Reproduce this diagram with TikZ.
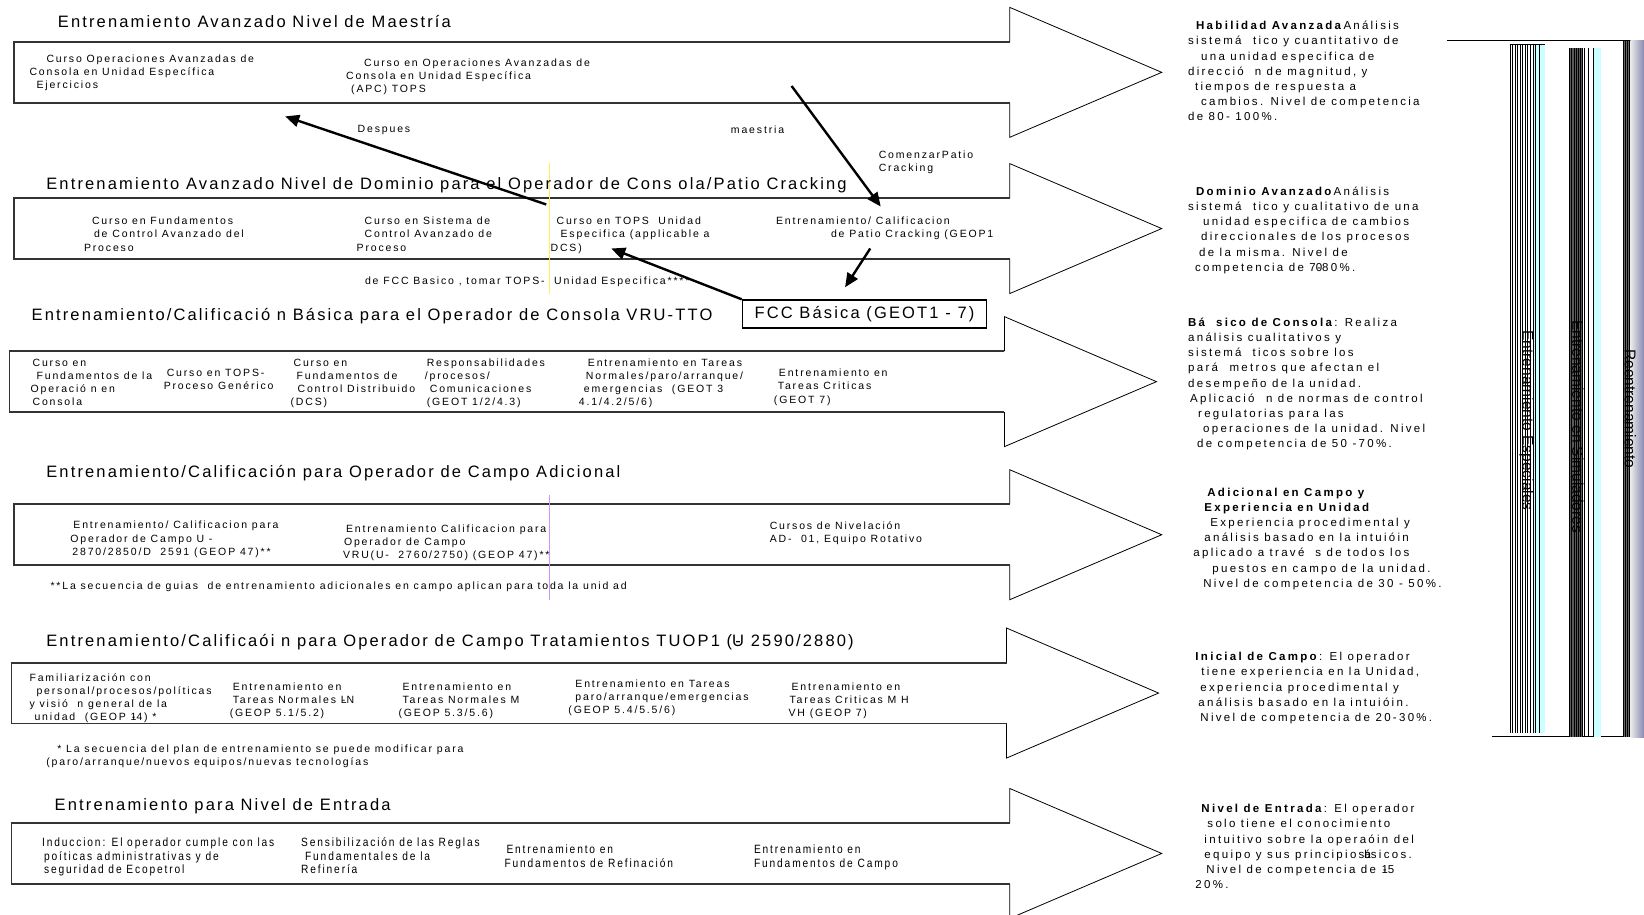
\documentclass[tikz,border=0pt]{standalone}
\usepackage{fontspec}
\setmainfont{Liberation Sans}
\newfontfamily\titlef[LetterSpace=13]{Liberation Sans}
\newfontfamily\smallf[LetterSpace=17.5]{Liberation Sans}
\newfontfamily\descf[LetterSpace=20]{Liberation Sans}
\newfontfamily\narrowf[LetterSpace=15.5,FakeStretch=0.85]{Liberation Sans}
\newfontfamily\colf{Liberation Sans}
\usetikzlibrary{arrows.meta}
% overprinted glyph pair
\newcommand\ovl[2]{\ooalign{#1\cr\hidewidth#2\hidewidth\cr}}
\newcommand\ind[1]{\hspace*{#1pt}}
% one level arrow: left x, centre y, x where the head starts
\newcommand\levelarrow[3]{%
  \draw[headline] (#3,#2-29) -- (#3,#2-62) -- (#3+145,#2) -- (#3,#2+62) -- (#3,#2+29);
  \draw[shaftline] (#3,#2-29) -- (#1,#2-29) -- (#1,#2+29) -- (#3,#2+29);}
\definecolor{lightcyan}{RGB}{204,255,255}
\definecolor{slateblue}{RGB}{136,136,176}
\definecolor{hiyellow}{RGB}{255,240,90}
\definecolor{hipurple}{RGB}{200,150,255}
\begin{document}
\begin{tikzpicture}[x=1.0485pt,y=-1.0485pt,
  headline/.style={draw=black,line width=0.8pt},
  shaftline/.style={draw=black!80,line width=1.8pt},
  leveltitle/.style={anchor=west,inner sep=0pt,yshift=-2pt,font=\titlef\fontsize{16.5}{20}\selectfont},
  course/.style={anchor=north west,inner sep=0pt,align=left,yshift=-2.1pt,font=\smallf\fontsize{10.5}{13.1}\selectfont},
  narrowcourse/.style={anchor=north west,inner sep=0pt,align=left,yshift=-2.1pt,font=\narrowf\fontsize{12}{13.6}\selectfont},
  note/.style={anchor=west,inner sep=0pt,yshift=-2.1pt,font=\smallf\fontsize{10.5}{13.1}\selectfont},
  levelinfo/.style={anchor=north west,inner sep=0pt,align=left,yshift=-2.1pt,font=\descf\fontsize{11.5}{15.2}\selectfont},
  link/.style={draw=black,line width=2.4pt,-{Triangle[length=14pt,width=12pt]}},
  coltext/.style={rotate=-90,inner sep=0pt,font=\colf\fontsize{15.5}{18}\selectfont}]
\useasboundingbox (0,0) rectangle (1568,872);

% ---- level arrows ----
\levelarrow{13}{69}{963}
\levelarrow{13}{218}{963}
\levelarrow{9}{364}{958}
\levelarrow{13}{510}{963}
\levelarrow{11}{661}{960}
\levelarrow{11}{814}{963}

% ---- highlight marks ----
\draw[hiyellow,line width=0.8pt] (524,155) -- (524,280);
\draw[hipurple,line width=1pt] (524,472) -- (524,572);

% ---- level titles ----
\node[leveltitle] (t1) at (55,19) {Entrenamiento Avanzado Nivel de Maestría};
\node[leveltitle] (t2) at (44,175) {Entrenamiento Avanzado Nivel de Dominio para el Operador de Cons ola/Patio Cracking};
\node[leveltitle] (t3) at (30,300) {Entrenamiento/Calificació n Básica para el Operador de Consola VRU-TTO};
\node[leveltitle] (t4) at (44,449) {Entrenamiento/Calificación para Operador de Campo Adicional};
\node[leveltitle] (t5) at (44,611) {Entrenamiento/Calificaói n para Operador de Campo Tratamientos TUOP1 (\ovl{U}{-} 2590/2880)};
\node[leveltitle] (t6) at (52,767) {Entrenamiento para Nivel de Entrada};

% ---- level 1 ----
\node[course] (a1) at (28,50) {\ind{17}Curso Operaciones Avanzadas de\\Consola en Unidad Específica\\\ind{7}Ejercicios};
\node[course] (a2) at (330,54) {\ind{18}Curso en Operaciones Avanzadas de\\Consola en Unidad Específica\\\ind{5}(APC) TOPS};
\node[note] (n1) at (341,122) {Despues};
\node[note] (n2) at (697,122) {maestria};
\node[course] (n3) at (838,142) {ComenzarPatio\\Cracking};

% ---- level 2 ----
\node[course] (b1) at (80,205) {\ind{8}Curso en Fundamentos\\\ind{10}de Control Avanzado del\\Proceso};
\node[course] (b2) at (340,205) {\ind{8}Curso en Sistema de\\\ind{8}Control Avanzado de\\Proceso};
\node[course] (b3) at (525,205) {\ind{6}Curso en TOPS\ \ Unidad\\\ind{10}Especifica (applicable a\\DCS)};
\node[course] (b4) at (740,205) {Entrenamiento/ Calificacion\\\ind{55}de Patio Cracking (GEOP1};
\node[note] (n4) at (348,267) {de FCC Basico , tomar TOPS-\ \ Unidad Especifica****};
\node[draw=black,line width=1.4pt,minimum width=244pt,minimum height=28pt,inner sep=0pt,
      font=\titlef\fontsize{16.5}{20}\selectfont] (fcc) at (824.5,299.5) {FCC Básica (GEOT1 - 7)};

% ---- level 3 ----
\node[course] (c1) at (29,340) {\ind{2}Curso en\\\ind{6}Fundamentos de la\\Operació n en\\\ind{2}Consola};
\node[course] (c2) at (156,350) {\ind{3}Curso en TOPS-\\Proceso Genérico};
\node[course] (c3) at (277,340) {\ind{3}Curso en\\\ind{6}Fundamentos de\\\ind{7}Control Distribuido\\(DCS)};
\node[course] (c4) at (405,340) {\ind{2}Responsabilidades\\/procesos/\\\ind{5}Comunicaciones\\\ind{2}(GEOT 1/2/4.3)};
\node[course] (c5) at (552,340) {\ind{9}Entrenamiento en Tareas\\\ind{7}Normales/paro/arranque/\\\ind{5}emergencias\ \ (GEOT 3\\4.1/4.2/5/6)};
\node[course] (c6) at (738,350) {\ind{5}Entrenamiento en\\\ind{4}Tareas Criticas\\(GEOT 7)};

% ---- level 4 ----
\node[course] (d1) at (67,495) {\ind{3}Entrenamiento/ Calificacion para\\Operador de Campo U -\\\ind{2}2870/2850/D\ \ 2591 (GEOP 47)**};
\node[course] (d2) at (327,498) {\ind{3}Entrenamiento Calificacion para\\\ind{1}Operador de Campo\\VRU(U-\ \ 2760/2750) (GEOP 47)**};
\node[course] (d3) at (734,495) {Cursos de Nivelación\\AD-\ \ 01, Equipo Rotativo};
\node[note] (n5) at (48,558) {**La secuencia de guias\ \ de entrenamiento adicionales en campo aplican para toda la unid ad};

% ---- level 5 ----
\node[course] (e1) at (28,640) {Familiarización con\\\ind{7}personal/procesos/políticas\\y visió\ \ n general de la\\\ind{5}unidad\ \ (GEOP \ovl{1}{-}4) *};
\node[course] (e2) at (219,649) {\ind{3}Entrenamiento en\\\ind{3}Tareas Normales \ovl{L}{-}N\\(GEOP 5.1/5.2)};
\node[course] (e3) at (380,649) {\ind{4}Entrenamiento en\\\ind{4}Tareas Normales M\\(GEOP 5.3/5.6)};
\node[course] (e4) at (542,646) {\ind{7}Entrenamiento en Tareas\\\ind{7}paro/arranque/emergencias\\(GEOP 5.4/5.5/6)};
\node[course] (e5) at (752,649) {\ind{3}Entrenamiento en\\\ind{1}Tareas Criticas M H\\VH (GEOP 7)};
\node[course] (n6) at (44,708) {\ind{11}* La secuencia del plan de entrenamiento se puede modificar para\\(paro/arranque/nuevos equipos/nuevas tecnologías};

% ---- level 6 ----
\node[narrowcourse] (f1) at (40,797) {Induccion: El operador cumple con las\\\ind{2}poíticas administrativas y de\\\ind{2}seguridad de Ecopetrol};
\node[narrowcourse] (f2) at (287,797) {Sensibilización de las Reglas\\\ind{4}Fundamentales de la\\Refinería};
\node[narrowcourse] (f3) at (481,804) {\ind{2}Entrenamiento en\\Fundamentos de Refinación};
\node[narrowcourse] (f4) at (719,804) {Entrenamiento en\\Fundamentos de Campo};

% ---- links between courses ----
\coordinate (k1s) at (521,195); \coordinate (k1e) at (272,111);
\coordinate (k2s) at (755,82);  \coordinate (k2e) at (840,197);
\coordinate (k3s) at (830,237); \coordinate (k3e) at (806,274);
\coordinate (k4e) at (583,237);
\draw[link] (k1s) -- (k1e);
\draw[link] (k2s) -- (k2e);
\draw[link] (k3s) -- (k3e);
\draw[link] (fcc.north west) -- (k4e);

% ---- competence descriptions ----
\node[levelinfo] (r1) at (1133,18) {\ind{8}\textbf{Habilidad Avanzada}Aná\kern2pt lisis\\sistemá\quad tico y cuantitativo de\\\ind{13}una unidad especifica de\\direcció\ \ n de magnitud, y\\\ind{7}tiempos de respuesta a\\\ind{13}cambios. Nivel de competencia\\de 80- 100\%.};
\node[levelinfo] (r2) at (1133,176) {\ind{8}\textbf{Dominio Avanzado}Aná\kern2pt lisis\\sistemá\quad tico y cualitativo de una\\\ind{15}unidad especifica de cambios\\\ind{13}direccionales de los procesos\\\ind{11}de la misma. Nivel de\\\ind{7}competencia de 7\ovl{0}{-}80\%.};
\node[levelinfo] (r3) at (1133,301) {\textbf{Bá\ \ sico de Consola}: Realiza\\aná\kern2pt lisis cualitativos y\\sistemá\ \ ticos sobre los\\pará\quad metros que afectan el\\desempeño de la unidad.\\\ind{2}Aplicació\quad n de normas de control\\\ind{10}regulatorias para las\\\ind{15}operaciones de la unidad. Nivel\\\ind{9}de competencia de 50 -70\%.};
\node[levelinfo] (r4) at (1138,463) {\ind{14}\textbf{Adicional en Campo y}\\\ind{11}\textbf{Experiencia en Unidad}\\\ind{17}Experiencia procedimental y\\\ind{11}análisis basado en la intuióin\\aplicado a travé\ \ s de todos los\\\ind{19}puestos en campo de la unidad.\\\ind{10}Nivel de competencia de 30 - 50\%.};
\node[levelinfo] (r5) at (1140,620) {\textbf{Inicial de Campo}: El operador\\\ind{6}tiene experiencia en la Unidad,\\\ind{5}experiencia procedimental y\\\ind{3}análisis basado en la intuióin.\\\ind{5}Nivel de competencia de 20-30\%.};
\node[levelinfo] (r6) at (1140,765) {\ind{6}\textbf{Nivel de Entrada}: El operador\\\ind{12}solo tiene el conocimiento\\\ind{9}intuitivo sobre la operaóin del\\\ind{9}equipo y sus principios\ovl{á}{b}sicos.\\\ind{11}Nivel de competencia de \ovl{1}{-}5\\20\%.};

% ---- side columns ----
\draw[line width=0.8pt] (1380,39) -- (1568,39);
\draw[line width=0.8pt] (1423,702) -- (1568,702);
% column 1
\fill[lightcyan] (1463,42) rectangle (1474,699);
\node[coltext] (s1) at (1456,401) {Entrenamiento Especiales};
\foreach \x in {1440,1442.5,1445,1447,1449.5,1452,1454.5,1457,1459.5,1462,1464,1468}
  \draw[line width=0.4pt] (\x,42) -- (\x,699);
\draw[line width=0.4pt] (1440,42) -- (1474,42);
% column 2
\fill[black!65] (1497,46) rectangle (1509,703);
\fill[lightcyan] (1520,46) rectangle (1527,703);
\node[coltext] (s2) at (1505,407) {Entrenamiento en Simuladores};
\foreach \x in {1497,1499,1501,1503,1505,1507,1509,1511,1515,1520}
  \draw[line width=0.4pt] (\x,46) -- (\x,703);
% column 3
\fill[black!60] (1548,39) rectangle (1555,703);
\shade[left color=black!8,right color=slateblue] (1555,39) rectangle (1568,703);
\node[coltext] (s3) at (1555,390) {Reentrenamiento};
\foreach \x in {1548,1550,1552,1554}
  \draw[line width=0.4pt] (\x,39) -- (\x,703);
\end{tikzpicture}
\end{document}
